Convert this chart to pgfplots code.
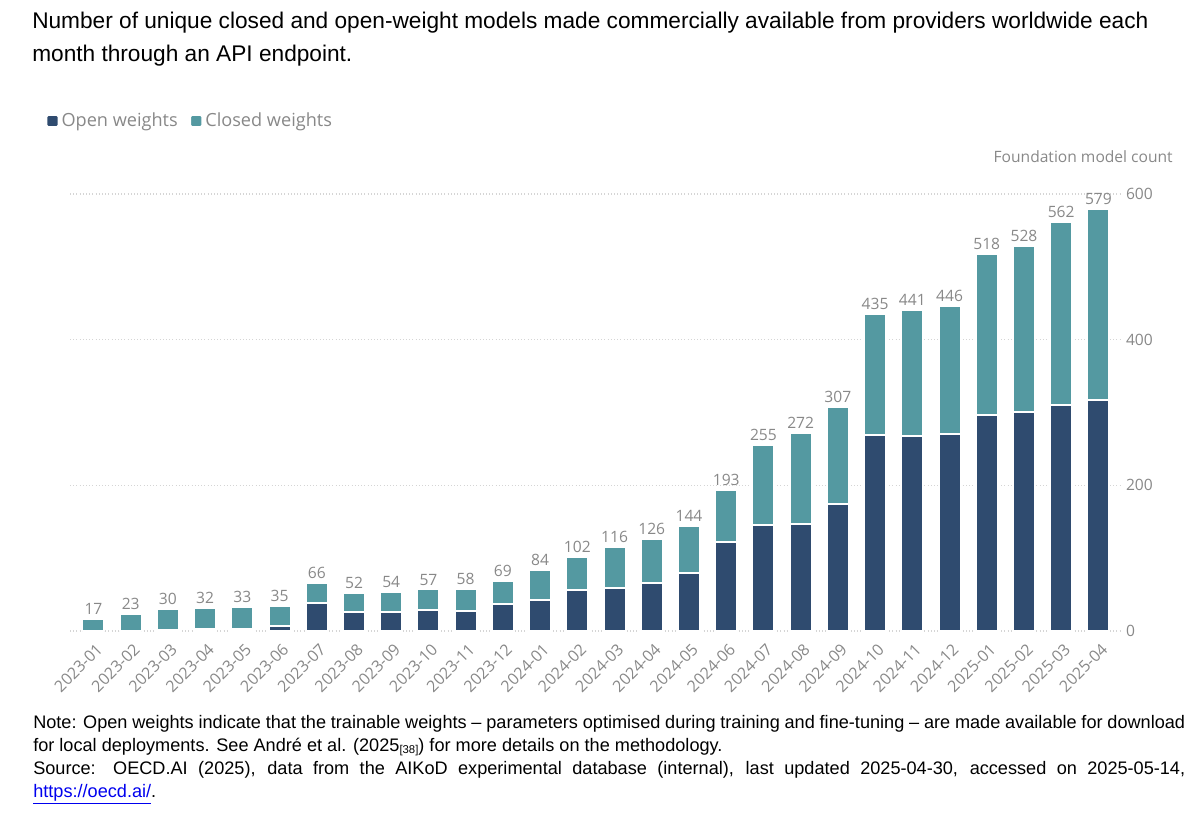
\documentclass[border=0pt]{standalone}
\usepackage{fontspec}
\setmainfont{Open Sans}
\newfontfamily\arial{Liberation Sans}
\usepackage{pgfplots}
\usepackage{pgfplotstable}
\pgfplotsset{compat=1.18}

\definecolor{openc}{HTML}{2F4B6F}
\definecolor{closedc}{HTML}{5499A1}
\definecolor{txtgray}{HTML}{888888}
\definecolor{gridgray}{HTML}{D5D5D5}
\definecolor{linkblue}{HTML}{0000EE}

% month, open weights, closed weights, total (open + closed)
\pgfplotstableread{
x  month    open closed total
0  2023-01  0    17     17
1  2023-02  0    23     23
2  2023-03  1    29     30
3  2023-04  3    29     32
4  2023-05  3    30     33
5  2023-06  7    28     35
6  2023-07  38   28     66
7  2023-08  26   26     52
8  2023-09  26   28     54
9  2023-10  29   28     57
10 2023-11  28   30     58
11 2023-12  37   32     69
12 2024-01  43   41     84
13 2024-02  56   46     102
14 2024-03  59   57     116
15 2024-04  66   60     126
16 2024-05  79   65     144
17 2024-06  122  71     193
18 2024-07  146  109    255
19 2024-08  147  125    272
20 2024-09  174  133    307
21 2024-10  269  166    435
22 2024-11  268  173    441
23 2024-12  270  176    446
24 2025-01  297  221    518
25 2025-02  301  227    528
26 2025-03  310  252    562
27 2025-04  317  262    579
}\models

\begin{document}
\begin{tikzpicture}
% page frame: 1 px of the reference = 0.75pt
\path[use as bounding box] (0,0) rectangle (900pt,-624pt);

\begin{axis}[
  at={(52.5pt,-473.25pt)}, anchor=south west,
  scale only axis, width=787.5pt, height=327.75pt,
  ybar, bar shift=0pt, bar width=16.5pt,
  xmin=-0.63, xmax=27.58, ymin=0, ymax=600,
  axis line style={draw=none},
  xtick=data, xticklabels from table={\models}{month},
  ytick={0,200,400,600},
  major tick length=0pt,
  yticklabel pos=right,
  ymajorgrids, grid style={gridgray, dotted, line width=0.8pt},
  /pgf/number format/assume math mode=true,
  ticklabel style={font=\fontsize{11.7}{14}\selectfont, text=txtgray},
  yticklabel style={anchor=west, xshift=1pt},
  xticklabel style={rotate=45, anchor=north east, inner sep=1pt, yshift=-6pt, xshift=-4pt,
    font=\fontsize{12}{14}\selectfont},
  clip=false,
  legend columns=-1, reverse legend,
  legend style={at={(-0.0238,1.167)}, anchor=west, draw=none, fill=none,
    inner sep=0pt, font=\fontsize{13.6}{15}\selectfont, text=txtgray,
    /tikz/every even column/.append style={column sep=7pt},
    nodes={inner sep=1.5pt}},
  legend image code/.code={\fill[rounded corners=1.3pt] (0pt,-4.6pt) rectangle (9.2pt,4.6pt);},
]
% full bar = open + closed, in the closed colour, labelled with the total
\addplot[fill=closedc, draw=white, line width=1.5pt,
  nodes near coords,
  every node near coord/.append style={font=\fontsize{11.7}{14}\selectfont, text=txtgray,
    anchor=south, inner sep=2.5pt, /pgf/number format/assume math mode=true}]
  table[x=x, y=total] {\models};
% open weights part, drawn over the bottom of the bar
\addplot[fill=openc, draw=white, line width=1.5pt] table[x=x, y=open] {\models};
\legend{Closed weights, Open weights}
\end{axis}

\begin{scope}[x=0.75pt, y=-0.75pt]
\node[anchor=base west, inner sep=0pt, font=\arial\fontsize{17}{20}\selectfont] at (32,28)
  {Number of unique closed and open-weight models made commercially available from providers worldwide each};
\node[anchor=base west, inner sep=0pt, font=\arial\fontsize{17}{20}\selectfont] at (32,61)
  {month through an API endpoint.};
\node[anchor=base east, inner sep=0pt, font=\fontsize{11.7}{14}\selectfont, text=txtgray] at (1173,162)
  {Foundation model count};
\node[anchor=north west, inner sep=0pt, text width=864pt, align=justify,
  font=\arial\fontsize{13.6}{17.25}\selectfont] at (33,715)
  {Note: Open weights indicate that the trainable weights – parameters optimised during training and fine-tuning – are made available for download\linebreak
  for local deployments. See André et al. (2025{\fontsize{8.5}{8.5}\selectfont\raisebox{-0.3ex}{[38]}}) for more details on the methodology.\par
  Source: OECD.AI (2025), data from the AIKoD experimental database (internal), last updated 2025-04-30, accessed on 2025-05-14,\linebreak
  \textcolor{linkblue}{\underline{https://oecd.ai/}}.};
\end{scope}
\end{tikzpicture}
\end{document}
